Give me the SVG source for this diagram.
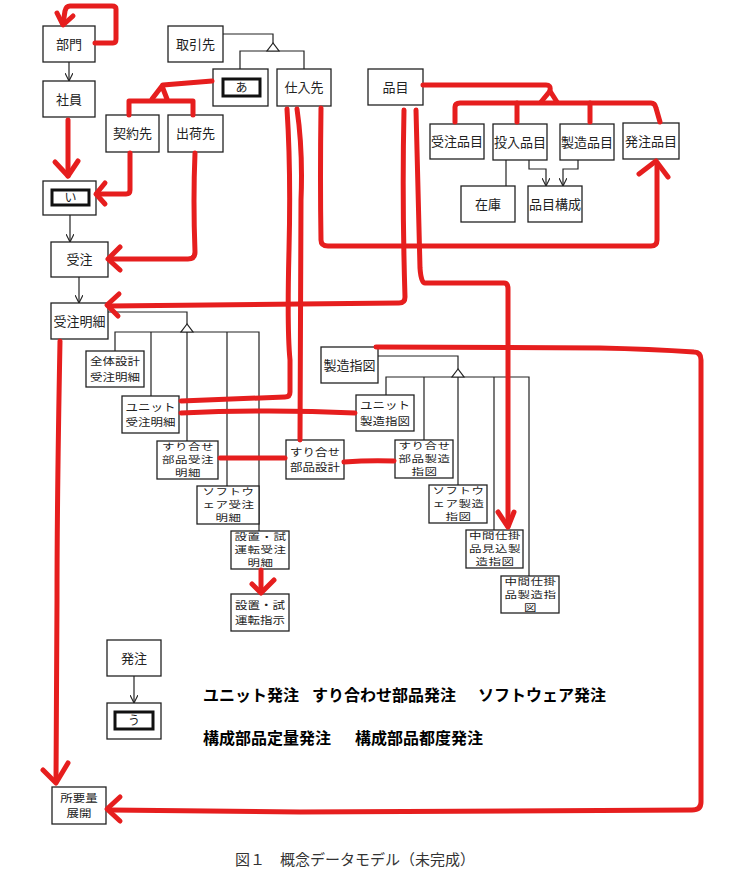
<svg xmlns="http://www.w3.org/2000/svg" width="747" height="883" viewBox="0 0 747 883">
<style>
.box{fill:#fff;stroke:#222;stroke-width:1.3}
.inner{fill:#fff;stroke:#111;stroke-width:3}
.ln{fill:none;stroke:#222;stroke-width:1.2}
.tri{fill:#fff;stroke:#222;stroke-width:1.2}
.red{fill:none;stroke:#e61e1e;stroke-width:5;stroke-linecap:round;stroke-linejoin:round}
.t{font-family:"Noto Sans CJK JP","Noto Sans",sans-serif;font-size:13px;fill:#222;text-anchor:middle}
.t2{font-size:12.5px}
.t3{font-size:12.5px;letter-spacing:0.5px}
.s{font-size:12px}
.b{font-family:"Noto Sans CJK JP","Noto Sans",sans-serif;font-weight:bold;font-size:16px;fill:#000}
.cap{font-family:"Noto Sans CJK JP","Noto Sans",sans-serif;font-size:15px;fill:#333}
</style>
<defs>
<marker id="ah" viewBox="0 0 10 10" refX="10" refY="5" markerWidth="8" markerHeight="8" markerUnits="userSpaceOnUse" orient="auto">
<path d="M0,0 L10,5 L0,10" fill="none" stroke="#222" stroke-width="1.4"/>
</marker>
</defs>
<rect width="747" height="883" fill="#fff"/>
<g id="connectors">
<path class="ln" d="M69,62 V81" marker-end="url(#ah)"/>
<path class="ln" d="M223,34 H273 V43"/>
<path class="ln" d="M240,69 V51 H304 V69"/>
<path class="tri" d="M273,43 L267,51 L279,51 Z"/>
<path class="ln" d="M506,160 V186"/>
<path class="ln" d="M529,160 V169 H546 V186" marker-end="url(#ah)"/>
<path class="ln" d="M578,160 V169 H563 V186" marker-end="url(#ah)"/>
<path class="ln" d="M70,215 V242" marker-end="url(#ah)"/>
<path class="ln" d="M79,277 V303" marker-end="url(#ah)"/>
<path class="ln" d="M108,312 H187 V324"/>
<path class="ln" d="M115,351 V332 H259 V531 M151,332 V396 M187,332 V441 M227,332 V486"/>
<path class="tri" d="M187,324 L181,332 L193,332 Z"/>
<path class="ln" d="M378,356 H458 V369"/>
<path class="ln" d="M386,395 V377 H529 V576 M424,377 V440 M458,377 V485 M494,377 V530"/>
<path class="tri" d="M458,369 L452,377 L464,377 Z"/>
<path class="ln" d="M134,676 V703" marker-end="url(#ah)"/>
</g>
<g id="n-bumon"><rect class="box" x="43" y="26" width="52" height="36"/><text class="t" x="69" y="48.5">部門</text></g>
<g id="n-shain"><rect class="box" x="43" y="81" width="52" height="36"/><text class="t" x="69" y="103.5">社員</text></g>
<g id="n-torihikisaki"><rect class="box" x="168" y="26" width="55" height="36"/><text class="t" x="195.5" y="48.5">取引先</text></g>
<g id="n-a"><rect class="box" x="213" y="69" width="55" height="37"/><rect class="inner" x="223" y="79" width="37" height="17"/><text class="t s" x="241.5" y="92">あ</text></g>
<g id="n-shiiresaki"><rect class="box" x="277" y="69" width="54" height="37"/><text class="t" x="304" y="92">仕入先</text></g>
<g id="n-hinmoku"><rect class="box" x="368" y="69" width="55" height="36"/><text class="t" x="395.5" y="91.5">品目</text></g>
<g id="n-juchuhinmoku"><rect class="box" x="430" y="124" width="54" height="35"/><text class="t" x="457" y="146">受注品目</text></g>
<g id="n-tonyuhinmoku"><rect class="box" x="493" y="124" width="54" height="36"/><text class="t" x="520" y="146.5">投入品目</text></g>
<g id="n-seizohinmoku"><rect class="box" x="560" y="124" width="54" height="36"/><text class="t" x="587" y="146.5">製造品目</text></g>
<g id="n-hacchuhinmoku"><rect class="box" x="623" y="123" width="56" height="36"/><text class="t" x="651" y="145.5">発注品目</text></g>
<g id="n-zaiko"><rect class="box" x="461" y="186" width="54" height="36"/><text class="t" x="488" y="208.5">在庫</text></g>
<g id="n-hinmokukosei"><rect class="box" x="528" y="186" width="54" height="36"/><text class="t" x="555" y="208.5">品目構成</text></g>
<g id="n-keiyakusaki"><rect class="box" x="106" y="115" width="53" height="37"/><text class="t" x="132.5" y="138">契約先</text></g>
<g id="n-shukkasaki"><rect class="box" x="168" y="115" width="55" height="37"/><text class="t" x="195.5" y="138">出荷先</text></g>
<g id="n-i"><rect class="box" x="43" y="181" width="53" height="34"/><rect class="inner" x="52" y="190" width="37" height="15"/><text class="t s" x="70.5" y="202">い</text></g>
<g id="n-juchu"><rect class="box" x="51" y="242" width="57" height="35"/><text class="t" x="79.5" y="264">受注</text></g>
<g id="n-juchumeisai"><rect class="box" x="51" y="303" width="57" height="36"/><text class="t" x="79.5" y="325.5">受注明細</text></g>
<g id="n-zentai"><rect class="box" x="86" y="351" width="58" height="36"/><text class="t t2" transform="scale(1,0.85)" x="115" y="429.5">全体設計<tspan x="115" dy="18.3">受注明細</tspan></text></g>
<g id="n-unitjuchu"><rect class="box" x="122" y="396" width="57" height="37"/><text class="t t2" transform="scale(1,0.85)" x="150.5" y="483">ユニット<tspan x="150.5" dy="18.3">受注明細</tspan></text></g>
<g id="n-surijuchu"><rect class="box" x="157" y="441" width="61" height="38"/><text class="t t3" transform="scale(1,0.72)" x="188" y="625.2">すり合せ<tspan x="188" dy="18.2">部品受注</tspan><tspan x="188" dy="18.2">明細</tspan></text></g>
<g id="n-softjuchu"><rect class="box" x="197" y="486" width="62" height="38"/><text class="t t3" transform="scale(1,0.72)" x="228.5" y="687.7">ソフトウ<tspan x="228.5" dy="18.2">ェア受注</tspan><tspan x="228.5" dy="18.2">明細</tspan></text></g>
<g id="n-setchijuchu"><rect class="box" x="231" y="531" width="58" height="38"/><text class="t t3" transform="scale(1,0.72)" x="260.5" y="750.2">設置・試<tspan x="260.5" dy="18.2">運転受注</tspan><tspan x="260.5" dy="18.2">明細</tspan></text></g>
<g id="n-setchishiji"><rect class="box" x="231" y="594" width="58" height="37"/><text class="t t2" transform="scale(1,0.85)" x="260" y="716">設置・試<tspan x="260" dy="18.3">運転指示</tspan></text></g>
<g id="n-surisekkei"><rect class="box" x="286" y="440" width="58" height="39"/><text class="t t2" transform="scale(1,0.85)" x="315" y="536">すり合せ<tspan x="315" dy="18.3">部品設計</tspan></text></g>
<g id="n-seizoshizu"><rect class="box" x="321" y="347" width="57" height="36"/><text class="t" x="349.5" y="369.5">製造指図</text></g>
<g id="n-unitseizo"><rect class="box" x="356" y="395" width="58" height="36"/><text class="t t2" transform="scale(1,0.85)" x="385" y="481.2">ユニット<tspan x="385" dy="18.3">製造指図</tspan></text></g>
<g id="n-suriseizo"><rect class="box" x="395" y="440" width="58" height="38"/><text class="t t3" transform="scale(1,0.72)" x="424.5" y="623.8">すり合せ<tspan x="424.5" dy="18.2">部品製造</tspan><tspan x="424.5" dy="18.2">指図</tspan></text></g>
<g id="n-softseizo"><rect class="box" x="429" y="485" width="58" height="38"/><text class="t t3" transform="scale(1,0.72)" x="458.5" y="686.3">ソフトウ<tspan x="458.5" dy="18.2">ェア製造</tspan><tspan x="458.5" dy="18.2">指図</tspan></text></g>
<g id="n-chukanmikomi"><rect class="box" x="466" y="530" width="57" height="38"/><text class="t t3" transform="scale(1,0.72)" x="495" y="748.8">中間仕掛<tspan x="495" dy="18.2">品見込製</tspan><tspan x="495" dy="18.2">造指図</tspan></text></g>
<g id="n-chukanseizo"><rect class="box" x="501" y="576" width="58" height="37"/><text class="t t3" transform="scale(1,0.72)" x="530.5" y="812">中間仕掛<tspan x="530.5" dy="18.2">品製造指</tspan><tspan x="530.5" dy="18.2">図</tspan></text></g>
<g id="n-hacchu"><rect class="box" x="107" y="640" width="54" height="36"/><text class="t" x="134" y="662.5">発注</text></g>
<g id="n-u"><rect class="box" x="107" y="703" width="54" height="36"/><rect class="inner" x="115" y="712" width="38" height="17"/><text class="t s" x="134" y="725">う</text></g>
<g id="n-shoyoryo"><rect class="box" x="52" y="787" width="54" height="37"/><text class="t t2" transform="scale(1,0.85)" x="79" y="943">所要量<tspan x="79" dy="18.3">展開</tspan></text></g>
<g id="labels">
<text class="b" x="203" y="701">ユニット発注</text>
<text class="b" x="312" y="701">すり合わせ部品発注</text>
<text class="b" x="478" y="701">ソフトウェア発注</text>
<text class="b" x="203" y="744">構成部品定量発注</text>
<text class="b" x="355" y="744">構成部品都度発注</text>
<text class="cap" x="235" y="865">図１　概念データモデル（未完成）</text>
</g>
<g id="red-connectors">
<path class="red" d="M95,43 H113 Q116,43 116,39 V9 Q116,6 112,6 H70 Q66,6 65,11 L63,24"/>
<path class="red" d="M57,13 L63,25 L73,16"/>
<path class="red" d="M68,120 V176"/>
<path class="red" d="M55,162 L68,176 L78,161"/>
<path class="red" d="M212,81 L163,85"/>
<path class="red" d="M152,99 L162,86 L167,99"/>
<path class="red" d="M129,115 V101 H193 V115"/>
<path class="red" d="M130,153 V190 Q130,194 126,194 H98"/>
<path class="red" d="M105,183 L96,194 L105,204"/>
<path class="red" d="M195,153 Q193,200 195,252 Q195,259 188,259 H109"/>
<path class="red" d="M120,247 L108,259 L120,270"/>
<path class="red" d="M404,110 Q402,200 405,297 Q405,303 399,303 L300,304 L110,306"/>
<path class="red" d="M119,294 L107,305 L118,316"/>
<path class="red" d="M416,110 Q418,200 420,268 Q421,283 425,283 H504 Q508,283 508,289 V526"/>
<path class="red" d="M498,512 L508,527 L514,512"/>
<path class="red" d="M423,85 H546 Q551,85 550,90"/>
<path class="red" d="M541,102 L550,91 L557,102"/>
<path class="red" d="M455,122 V107 Q455,103 460,103 H651 Q655,103 656,108 L660,122"/>
<path class="red" d="M517,103 V122 M590,103 V122"/>
<path class="red" d="M321,108 Q320,180 321,240 Q321,246 328,246 H651 Q657,246 657,240 V163"/>
<path class="red" d="M639,174 L656,161 L668,177"/>
<path class="red" d="M287,109 Q291,170 289,250 Q287,330 290,360 L290,392 Q290,397 285,397 L181,401"/>
<path class="red" d="M297,109 Q303,150 301,200 L300,440"/>
<path class="red" d="M181,413 Q270,409 355,413"/>
<path class="red" d="M220,458 H285"/>
<path class="red" d="M344,462 Q370,460 394,461"/>
<path class="red" d="M376,347 L600,348 Q650,349 694,352 Q701,352 701,360 V802 Q701,810 692,810 L300,812 L110,810"/>
<path class="red" d="M120,797 L107,809 L120,821"/>
<path class="red" d="M60,341 Q57,500 57,600 L56,781"/>
<path class="red" d="M43,770 L56,783 L68,763"/>
<path class="red" d="M261,570 V592"/>
<path class="red" d="M252,584 L261,593 L274,580"/>
</g>
</svg>
